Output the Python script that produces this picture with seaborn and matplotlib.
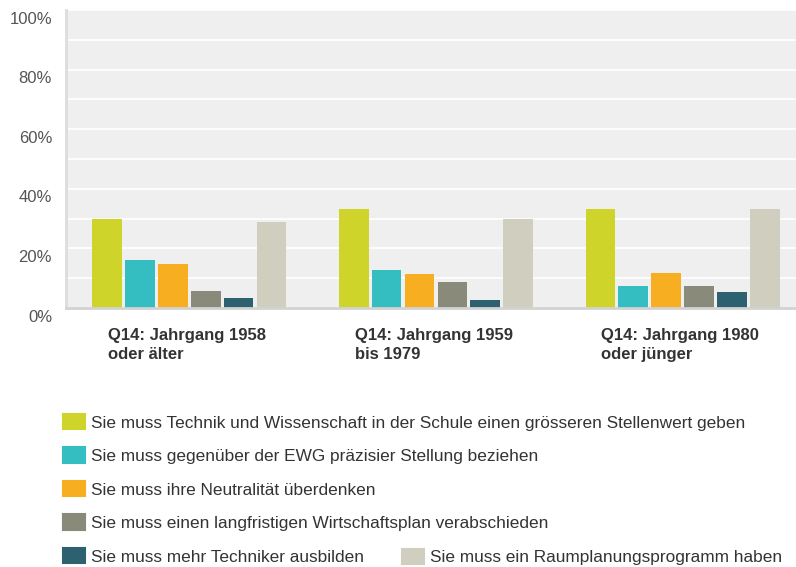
import matplotlib
matplotlib.use('Agg')
from matplotlib import pyplot as plt
from matplotlib.patches import Patch
from matplotlib.ticker import MultipleLocator, FuncFormatter
from matplotlib.transforms import ScaledTranslation
import pandas as pd
import seaborn as sns

### DATA ###
groups = ['Q14: Jahrgang 1958\noder älter',
          'Q14: Jahrgang 1959\nbis 1979',
          'Q14: Jahrgang 1980\noder jünger']
answers = ['Sie muss Technik und Wissenschaft in der Schule einen grösseren Stellenwert geben',
           'Sie muss gegenüber der EWG präzisier Stellung beziehen',
           'Sie muss ihre Neutralität überdenken',
           'Sie muss einen langfristigen Wirtschaftsplan verabschieden',
           'Sie muss mehr Techniker ausbilden',
           'Sie muss ein Raumplanungsprogramm haben']
technik = [30.0, 33.3, 33.3]
ewg = [16.2, 12.8, 7.4]
neutralitaet = [14.8, 11.4, 11.8]
wirtschaftsplan = [5.7, 8.8, 7.4]
techniker = [3.4, 2.7, 5.4]
raumplanung = [29.0, 30.0, 33.3]
colors = ['#cfd42a', '#34bec1', '#f7ae20', '#8a8a7a', '#2e616f', '#d0cebf']

series = [technik, ewg, neutralitaet, wirtschaftsplan, techniker, raumplanung]
rows = []
for ans, vals in zip(answers, series):
    for g, v in zip(groups, vals):
        rows.append({'group': g, 'answer': ans, 'value': v})
df = pd.DataFrame(rows)

### STYLE ###
sns.set_style('whitegrid', {'axes.facecolor': '#efefef', 'grid.color': 'white'})
plt.rcParams['font.family'] = ['Liberation Sans', 'DejaVu Sans']

fig = plt.figure(figsize=(7.96, 5.67), dpi=100)
ax = fig.add_axes([66 / 796, 1 - 308 / 567, 1 - 66 / 796, 298 / 567])

sns.barplot(data=df, x='group', y='value', hue='answer', order=groups,
            hue_order=answers, palette=colors, saturation=1, width=0.8,
            gap=0.1, legend=False, linewidth=0, ax=ax)

ax.set_xlim(-0.5, 2.46)
ax.set_ylim(0, 100)
ax.set_xlabel('')
ax.set_ylabel('')
ax.set_xticks([])

# gridlines every 10%, labels every 20%
ax.yaxis.set_major_locator(MultipleLocator(20))
ax.yaxis.set_minor_locator(MultipleLocator(10))
ax.yaxis.set_major_formatter(FuncFormatter(lambda v, p: f'{v:.0f}%'))
ax.grid(False)
ax.grid(axis='y', which='both', color='white', linewidth=1.2)
ax.set_axisbelow(True)
ax.tick_params(axis='y', which='both', length=0, pad=10, labelsize=12, labelcolor='#555555')
for lab in ax.get_yticklabels():
    lab.set_transform(lab.get_transform() + ScaledTranslation(0, -5.5 / 72, fig.dpi_scale_trans))

for side in ['top', 'right']:
    ax.spines[side].set_visible(False)
ax.spines['left'].set_color('#dcdcdc')
ax.spines['left'].set_linewidth(2)
ax.spines['bottom'].set_color('#d2d2d2')
ax.spines['bottom'].set_linewidth(2)

# category labels, left aligned under each group
for i, g in enumerate(groups):
    ax.annotate(g, xy=(i - 0.33, 0), xycoords=('data', 'axes fraction'),
                xytext=(0, -14.5), textcoords='offset points',
                ha='left', va='top', fontsize=12, fontweight='bold',
                color='#333333', linespacing=1.3)

### LEGEND ###
handles = [Patch(facecolor=c, edgecolor=c, linewidth=1.5, joinstyle='round', label=a)
           for c, a in zip(colors, answers)]
leg_kw = dict(frameon=False, loc='upper left', fontsize=12.4, handlelength=1.27,
              handleheight=1.0, handletextpad=0.38, labelspacing=0.98,
              borderpad=0, borderaxespad=0, labelcolor='#333333')
leg1 = fig.legend(handles=handles[:5], bbox_to_anchor=(63 / 796, 1 - 414 / 567), **leg_kw)

# last item sits on the same row as the fifth one
fig.canvas.draw()
last = leg1.get_texts()[-1].get_window_extent()
top_px = last.y1 + 1
leg2 = fig.legend(handles=handles[5:], bbox_to_anchor=(402 / 796, top_px / fig.bbox.height), **leg_kw)

fig.savefig('out.png', dpi=100)
